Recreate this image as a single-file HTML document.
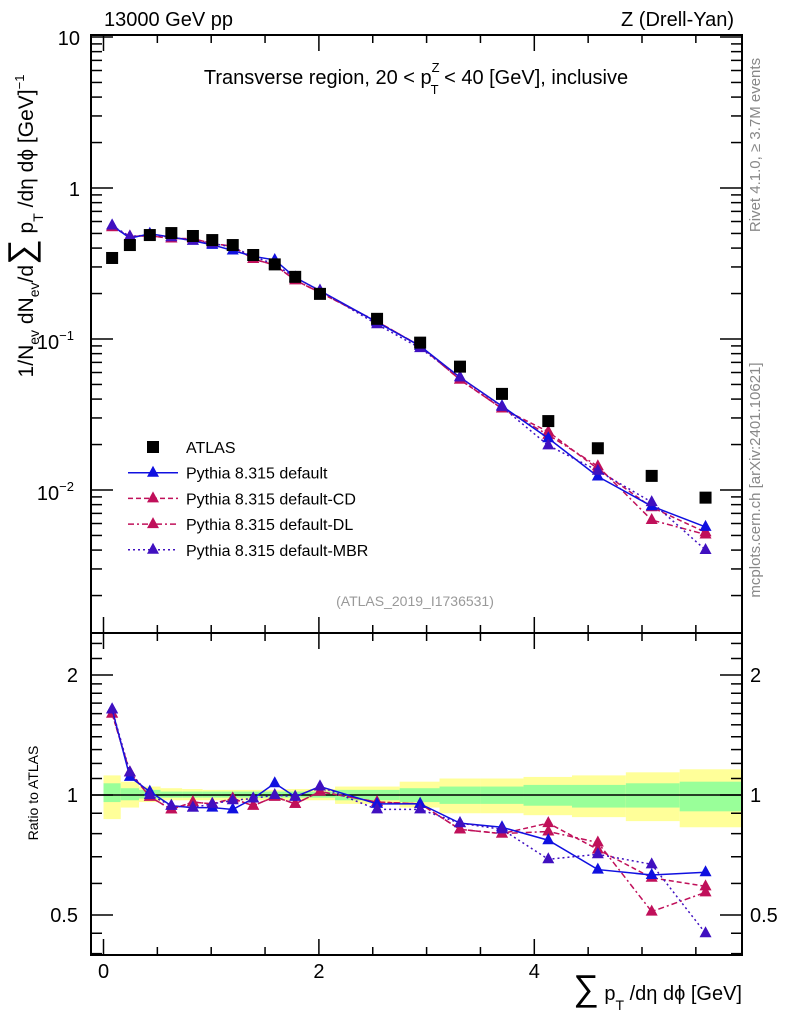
<!DOCTYPE html>
<html><head><meta charset="utf-8"><style>
body{margin:0;background:#fff;font-family:"Liberation Sans",sans-serif}
svg text{font-family:"Liberation Sans","DejaVu Sans",sans-serif}
</style></head><body>
<svg id="c" width="786" height="1024" xmlns="http://www.w3.org/2000/svg"></svg>
<script>
const xs=[0.08,0.245,0.43,0.63,0.83,1.01,1.2,1.39,1.59,1.78,2.01,2.54,2.94,3.31,3.70,4.13,4.59,5.09,5.59];
const edges=[0,0.16,0.33,0.53,0.73,0.92,1.1,1.3,1.48,1.68,1.88,2.15,2.75,3.12,3.5,3.9,4.35,4.85,5.35,5.93];
const atlas=[0.344,0.419,0.488,0.503,0.481,0.452,0.419,0.360,0.312,0.258,0.199,0.136,0.0946,0.0656,0.0433,0.0286,0.0189,0.0124,0.0089];
const rDef=[1.64,1.11,1.02,0.94,0.93,0.93,0.92,0.98,1.07,0.99,1.05,0.95,0.95,0.85,0.83,0.77,0.65,0.63,0.64];
const rCD=[1.6,1.14,0.99,0.92,0.96,0.95,0.98,0.94,0.99,0.95,1.02,0.96,0.95,0.82,0.80,0.85,0.73,0.62,0.59];
const rDL=[1.6,1.14,0.99,0.92,0.96,0.95,0.98,0.94,0.99,0.95,1.02,0.96,0.95,0.82,0.80,0.81,0.76,0.51,0.57];
const rMBR=[1.64,1.14,1.0,0.94,0.93,0.95,0.97,0.98,1.0,0.99,1.05,0.92,0.92,0.85,0.82,0.69,0.71,0.67,0.45];
const yelHi=[1.12,1.08,1.05,1.04,1.035,1.03,1.03,1.03,1.03,1.035,1.035,1.05,1.08,1.1,1.1,1.11,1.12,1.14,1.16];
const yelLo=[0.87,0.93,0.96,0.97,0.97,0.97,0.97,0.97,0.97,0.97,0.97,0.95,0.93,0.9,0.9,0.89,0.88,0.86,0.83];
const grnHi=[1.07,1.04,1.03,1.02,1.02,1.02,1.02,1.02,1.02,1.02,1.02,1.03,1.04,1.05,1.05,1.06,1.06,1.07,1.08];
const grnLo=[0.96,0.97,0.98,0.985,0.985,0.985,0.985,0.985,0.985,0.985,0.985,0.97,0.96,0.95,0.95,0.94,0.93,0.93,0.91];
const xTicks=[0,2,4];
const L=91,R=742,T=35,M=633,B=955;
const X=v=>103.5+v*107.7;
const Y=v=>188-151*Math.log10(v);
const YR=v=>795-120*Math.log2(v);
const S=document.getElementById('c');
const NS='http://www.w3.org/2000/svg';
function el(t,a,p){const e=document.createElementNS(NS,t);for(const k in a)e.setAttribute(k,a[k]);(p||S).appendChild(e);return e;}
function tx(x,y,s,sz,anch,extra){const e=el('text',Object.assign({x:x,y:y,'font-size':sz,'text-anchor':anch||'start'},extra||{}));e.textContent=s;return e;}
for(let i=0;i<xs.length;i++){
 const x0=X(edges[i]),x1=Math.min(X(edges[i+1]),R);
 const b1=el('rect',{x:x0,y:YR(yelHi[i]),width:x1-x0,height:YR(yelLo[i])-YR(yelHi[i]),fill:'#ffff99'});
 
 const b2=el('rect',{x:x0,y:YR(grnHi[i]),width:x1-x0,height:YR(grnLo[i])-YR(grnHi[i]),fill:'#99ff99'});
 
}
el('line',{x1:L,x2:R,y1:YR(1),y2:YR(1),stroke:'#000','stroke-width':1.5});
el('rect',{x:L,y:T,width:R-L,height:M-T,fill:'none',stroke:'#000','stroke-width':2});
el('rect',{x:L,y:M,width:R-L,height:B-M,fill:'none',stroke:'#000','stroke-width':2});
for(let d=-3;d<=1;d++){for(let k=1;k<10;k++){const v=k*Math.pow(10,d);const y=Y(v);if(y<T||y>M)continue;const len=k==1?22:11;
 el('line',{x1:L,x2:L+len,y1:y,y2:y,stroke:'#000','stroke-width':1.5});el('line',{x1:R,x2:R-len,y1:y,y2:y,stroke:'#000','stroke-width':1.5});}}
tx(80,45,'10',20,'end');tx(80,196,'1',20,'end');
const t1=tx(74,349,'10',20,'end');el('tspan',{dy:-9,'font-size':13},t1).textContent='−1';
const t2=tx(74,500,'10',20,'end');el('tspan',{dy:-9,'font-size':13},t2).textContent='−2';
[0.5,0.6,0.7,0.8,0.9,1,1.1,1.2,1.3,1.4,1.5,1.6,1.7,1.8,1.9,2,2.2,2.4,0.4,0.45].forEach(v=>{const y=YR(v);if(y<M||y>B)return;const big=(v==0.5||v==1||v==2);const len=big?22:11;
 el('line',{x1:L,x2:L+len,y1:y,y2:y,stroke:'#000','stroke-width':1.5});el('line',{x1:R,x2:R-len,y1:y,y2:y,stroke:'#000','stroke-width':1.5});});
[[2,'2'],[1,'1'],[0.5,'0.5']].forEach(a=>{tx(78,YR(a[0])+7,a[1],20,'end');tx(750,YR(a[0])+7,a[1],20,'start');});
for(let v=0;v<=6;v+=0.5){const x=X(v);if(x>R)continue;const len=(v%2==0)?16:8;
 [T,M].forEach(y=>el('line',{x1:x,x2:x,y1:y,y2:y+len,stroke:'#000','stroke-width':1.5}));
 [M,B].forEach(y=>el('line',{x1:x,x2:x,y1:y,y2:y-len,stroke:'#000','stroke-width':1.5}));}
xTicks.forEach(v=>tx(X(v),978,String(v),20,'middle'));
function series(vals,col,dash,name,isRatio){
 const pts=xs.map((x,i)=>[X(x),isRatio?YR(vals[i]):Y(vals[i]*atlas[i])]);
 const p=el('polyline',{points:pts.map(q=>q.join(',')).join(' '),fill:'none',stroke:col,'stroke-width':1.5,'stroke-dasharray':dash});
 
 pts.forEach(q=>{const m=el('path',{d:`M${q[0]},${q[1]-7}L${q[0]+6},${q[1]+4}L${q[0]-6},${q[1]+4}Z`,fill:col});
 });
}
[[rCD,'#c0105a','5,3','default-cd'],[rDL,'#c0105a','6,3,2,3','default-dl'],[rDef,'#1010e0','','default'],[rMBR,'#4010c0','2,3','default-mbr']].forEach(s=>{series(s[0],s[1],s[2],s[3],false);series(s[0],s[1],s[2],s[3]+'-ratio',true);});
xs.forEach((x,i)=>{const y=Y(atlas[i]);const r=el('rect',{x:X(x)-6,y:y-6,width:12,height:12,fill:'#000'});
 });
const leg=[['ATLAS','#000','','sq'],['Pythia 8.315 default','#1010e0','',''],['Pythia 8.315 default-CD','#c0105a','5,3',''],['Pythia 8.315 default-DL','#c0105a','6,3,2,3',''],['Pythia 8.315 default-MBR','#4010c0','2,3','']];
leg.forEach((e,i)=>{const y=447+i*25.7;const g=el('g',{});
 if(e[3]=='sq')el('rect',{x:147,y:y-6,width:12,height:12,fill:'#000'},g);
 else{el('line',{x1:128,x2:178,y1:y,y2:y,stroke:e[1],'stroke-width':1.5,'stroke-dasharray':e[2]},g);el('path',{d:`M153,${y-7}L159,${y+4}L147,${y+4}Z`,fill:e[1]},g);}
 tx(186,y+6,e[0],16,'start',{});});
tx(104,26,'13000 GeV pp',20);tx(734,26,'Z (Drell-Yan)',20,'end');
const tt=el('text',{x:416,y:84,'font-size':20,'text-anchor':'middle'});

el('tspan',{},tt).textContent='Transverse region, 20 < p';
el('tspan',{dy:-12,'font-size':13},tt).textContent='Z';
el('tspan',{dx:-9,dy:22,'font-size':13},tt).textContent='T';
el('tspan',{dy:-10},tt).textContent=' < 40 [GeV], inclusive';
tx(415,606,'(ATLAS_2019_I1736531)',14,'middle',{fill:'#999'});
tx(760,145,'Rivet 4.1.0, ≥ 3.7M events',15,'middle',{fill:'#888',transform:'rotate(-90 760 145)'});
tx(760,480,'mcplots.cern.ch [arXiv:2401.10621]',15,'middle',{fill:'#888',transform:'rotate(-90 760 480)'});
const yl=el('text',{x:0,y:0,'font-size':21,'text-anchor':'middle',transform:'translate(33,226) rotate(-90)'});

el('tspan',{},yl).textContent='1/N';el('tspan',{dy:6,'font-size':14},yl).textContent='ev';el('tspan',{dy:-6},yl).textContent=' dN';el('tspan',{dy:6,'font-size':14},yl).textContent='ev';el('tspan',{dy:-6},yl).textContent='/d';
el('tspan',{'font-size':36},yl).textContent='∑';el('tspan',{},yl).textContent=' p';el('tspan',{dy:10,'font-size':14},yl).textContent='T';el('tspan',{dy:-10},yl).textContent=' /dη dϕ  [GeV]';el('tspan',{dy:-9,'font-size':13},yl).textContent='−1';
tx(38,793,'Ratio to ATLAS',14,'middle',{transform:'rotate(-90 38 793)'});
const xl=tx(742,1000,'',20,'end');

el('tspan',{'font-size':36},xl).textContent='∑';el('tspan',{},xl).textContent=' p';el('tspan',{dy:10,'font-size':14},xl).textContent='T';el('tspan',{dy:-10},xl).textContent=' /dη dϕ [GeV]';
</script>
</body></html>
